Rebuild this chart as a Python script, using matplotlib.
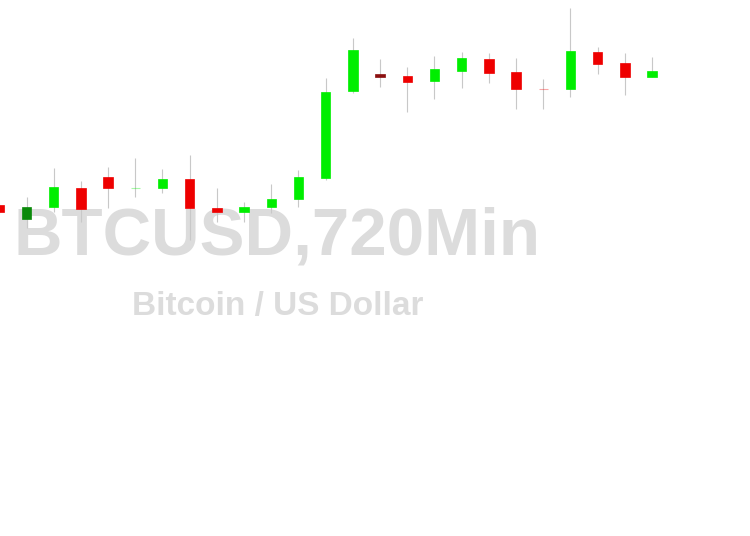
import matplotlib
matplotlib.use("Agg")
import matplotlib.pyplot as plt
from matplotlib.patches import Rectangle

# Candle data (arbitrary price units)
opens  = [95, 81, 93, 112, 123, 111.8, 112, 121, 92, 88, 93, 101, 122, 209, 226, 224, 219, 229, 241, 228, 211.2, 211, 248, 237, 223]
closes = [88, 93, 113, 91, 112, 112.2, 121, 92, 88, 93, 101, 123, 208, 250, 223, 218, 231, 242, 227, 211, 210.8, 249, 236, 223, 229]
highs  = [97, 103, 132, 119, 133, 142, 131, 145, 112, 98, 116, 130, 222, 262, 241, 233, 244, 248, 247, 242, 221, 292, 253, 247, 243]
lows   = [86, 72, 88, 78, 92, 103, 107, 60, 78, 78, 87, 93, 120, 207, 213, 188, 201, 212, 217, 191, 191, 203, 226, 205, 223]

title = "BTCUSD,720Min"
subtitle = "Bitcoin / US Dollar"

DARK = {1, 14}
UP, DOWN = "#00ee00", "#ee0000"
UP_DARK, DOWN_DARK = "#0a8a0a", "#8b1010"

fig = plt.figure(figsize=(7.5, 5.36), dpi=100)
ax = fig.add_axes([0, 0, 1, 1])
ax.set_xlim(0.0257, 27.6)
ax.set_ylim(-236, 300)
ax.axis("off")

ax.text(0.37, 1 - 237 / 536, title, ha="center", va="center", fontsize=48.4,
        fontweight="bold", family="Liberation Sans", color="#dcdcdc", zorder=1,
        transform=ax.transAxes)
ax.text(0.37, 1 - 306 / 536, subtitle, ha="center", va="center", fontsize=24,
        fontweight="bold", family="Liberation Sans", color="#dcdcdc", zorder=1,
        transform=ax.transAxes)

w = 0.35
for i, (o, c, h, l) in enumerate(zip(opens, closes, highs, lows)):
    ax.vlines(i, l, h, color="#c8c8c8", lw=0.8, zorder=2)
    up = c >= o
    col = (UP_DARK if i in DARK else UP) if up else (DOWN_DARK if i in DARK else DOWN)
    bot = min(o, c)
    hgt = abs(c - o)
    if hgt < 1:
        ax.hlines((o + c) / 2, i - w / 2, i + w / 2, color=col, lw=0.8, alpha=0.35, zorder=3)
    else:
        ax.add_patch(Rectangle((i - w / 2, bot), w, hgt, facecolor=col,
                               edgecolor=col, lw=0.5, zorder=3))

fig.savefig("out.png", dpi=100)
